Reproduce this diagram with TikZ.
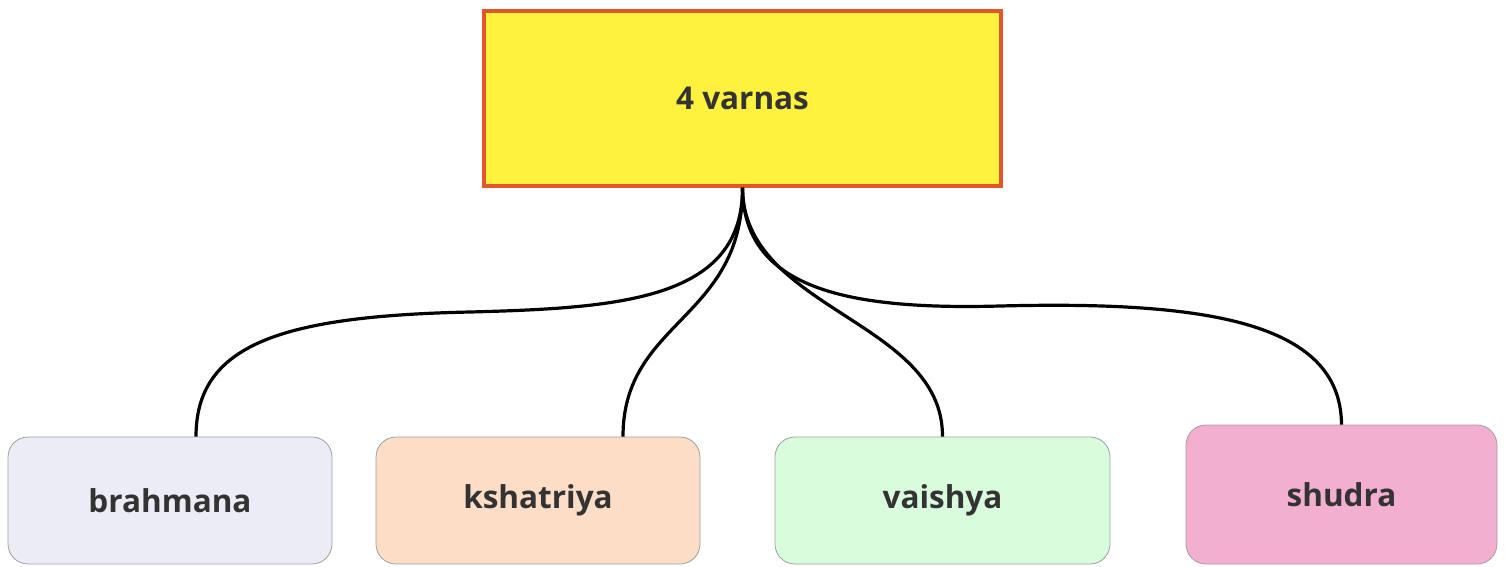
\documentclass[tikz,border=0pt]{standalone}
\usepackage{fontspec}
\setmainfont{Open Sans}[BoldFont={Open Sans Bold}]
\definecolor{rootfill}{HTML}{FEF23E}
\definecolor{rootedge}{HTML}{E5552C}
\definecolor{fillA}{HTML}{ECECF6}
\definecolor{fillB}{HTML}{FCDDC5}
\definecolor{fillC}{HTML}{D9FCDD}
\definecolor{fillD}{HTML}{F3AFD0}
\definecolor{boxedge}{HTML}{A0A0A0}
\definecolor{labeltext}{HTML}{333333}
\tikzset{
  lbl/.style={font=\fontsize{31.5}{38}\selectfont\bfseries, text=labeltext},
  rootbox/.style={lbl, draw=rootedge, line width=3.5pt, fill=rootfill,
    minimum width=517pt, minimum height=175pt, inner sep=0pt},
  leafbox/.style={lbl, draw=boxedge, line width=0.8pt, rounded corners=20pt,
    minimum height=127pt, inner sep=0pt},
  link/.style={draw=black, line width=3.2pt}
}
\begin{document}
\begin{tikzpicture}[x=1pt,y=-1pt]
\useasboundingbox (0,0) rectangle (1508,566);
\fill[white] (0,0) rectangle (1508,566);

\node[rootbox] (root) at (742.5,98.5) {4 varnas};

\node[leafbox, fill=fillA, minimum width=324pt] (brah) at (170,500.5) {brahmana};
\node[leafbox, fill=fillB, minimum width=324pt] (ksha) at (538,500.5) {kshatriya};
\node[leafbox, fill=fillC, minimum width=335pt] (vais) at (942.5,500.5) {vaishya};
\node[leafbox, fill=fillD, minimum width=311pt, minimum height=139pt] (shud) at (1341.5,494.5) {shudra};

% connectors from the root to each varna
\draw[link] (root.south) .. controls (743,300) and (620,308) .. (470,312)
  .. controls (280,316) and (196,345) .. ([xshift=26pt]brah.north);
\draw[link] (root.south) .. controls (743,320) and (623,320) .. ([xshift=85pt]ksha.north);
\draw[link] (root.south) .. controls (743,310) and (943,320) .. (vais.north);
\draw[link] (root.south) .. controls (743,290) and (850,310) .. (1000,306)
  .. controls (1200,301) and (1341,320) .. (shud.north);
\end{tikzpicture}
\end{document}
